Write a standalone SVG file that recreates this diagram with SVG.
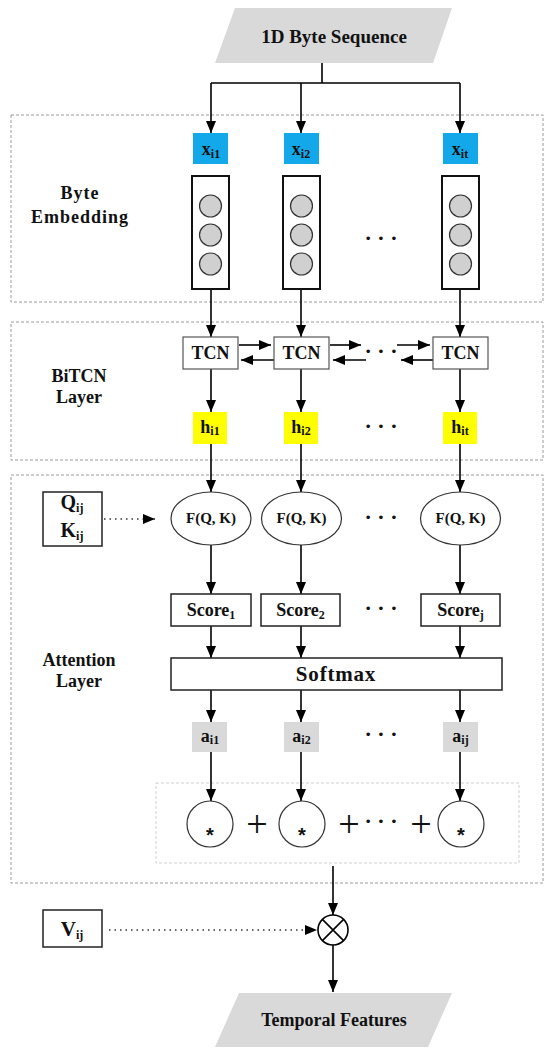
<svg xmlns="http://www.w3.org/2000/svg" width="550" height="1058" viewBox="0 0 550 1058">
<defs>
<marker id="ah" viewBox="0 0 12 10" refX="12" refY="5" markerWidth="12" markerHeight="10" markerUnits="userSpaceOnUse" orient="auto">
<path d="M0,0 L12,5 L0,10 z" fill="#000"/>
</marker>
<style>
.t{font-family:"Liberation Serif","Times New Roman",serif;font-weight:bold;text-anchor:middle;fill:#111}
.grp{fill:none;stroke:#9a9a9a;stroke-width:1;stroke-dasharray:3 2}
.inner{fill:none;stroke:#d0d0d0;stroke-width:1;stroke-dasharray:3 2}
.box{fill:#fff;stroke:#222;stroke-width:1.5}
.box2{fill:#fff;stroke:#555;stroke-width:1.2}
.emb{fill:#fff;stroke:#111;stroke-width:2}
.dot{fill:#d0d0d0;stroke:#333;stroke-width:1.2}
.xb{fill:#12a8ea}
.hb{fill:#ffff00}
.ab{fill:#d9d9d9}
.para{fill:#d9d9d9}
.c{fill:none;stroke:#000;stroke-width:1.6}
.ca{fill:none;stroke:#000;stroke-width:1.6;marker-end:url(#ah)}
.cd{fill:none;stroke:#333;stroke-width:1.4;stroke-dasharray:1.5 4;marker-end:url(#ah)}
.ell{fill:#fff;stroke:#333;stroke-width:1.2}
.dots{font-family:"Liberation Serif",serif;font-weight:bold;font-size:22px;text-anchor:middle;fill:#111}
.plus{font-family:"Liberation Serif",serif;font-size:38px;text-anchor:middle;fill:#111}
.star{font-family:"Liberation Sans",Arial,sans-serif;font-weight:bold;font-size:20px;text-anchor:middle;fill:#111}
</style>
</defs>
<rect width="550" height="1058" fill="#fff"/>

<!-- group frames -->
<g id="frames">
<rect class="grp" x="11" y="115" width="532" height="187"/>
<rect class="grp" x="11" y="322" width="532" height="138"/>
<rect class="grp" x="11" y="475" width="532" height="408"/>
<rect class="inner" x="156" y="783" width="363" height="80"/>
</g>

<g id="labels">
<text class="t" x="80" y="199" font-size="18" letter-spacing="1">Byte</text>
<text class="t" x="80" y="223" font-size="18" letter-spacing="1">Embedding</text>
<text class="t" x="79" y="382" font-size="18">BiTCN</text>
<text class="t" x="79" y="403" font-size="18">Layer</text>
<text class="t" x="79" y="666" font-size="18">Attention</text>
<text class="t" x="79" y="687" font-size="18">Layer</text>
</g>

<!-- connectors -->
<g id="connectors">
<path class="c" d="M322,63 V83 M211,83 H460"/>
<path class="ca" d="M211,83 V133"/>
<path class="ca" d="M301,83 V133"/>
<path class="ca" d="M460,83 V133"/>
<path class="ca" d="M211,289 V337"/>
<path class="ca" d="M301,289 V337"/>
<path class="ca" d="M460,289 V337"/>
<path class="ca" d="M239,345 H271"/>
<path class="ca" d="M274,360 H241"/>
<path class="ca" d="M330,345 H361"/>
<path class="ca" d="M366,360 H333"/>
<path class="ca" d="M397,345 H430"/>
<path class="ca" d="M433,360 H401"/>
<path class="ca" d="M211,369 V412"/>
<path class="ca" d="M301,369 V412"/>
<path class="ca" d="M460,369 V412"/>
<path class="ca" d="M211,444 V492"/>
<path class="ca" d="M301,444 V492"/>
<path class="ca" d="M460,444 V492"/>
<path class="cd" d="M104,519 H155"/>
<path class="ca" d="M211,545 V594"/>
<path class="ca" d="M301,545 V594"/>
<path class="ca" d="M460,545 V594"/>
<path class="ca" d="M211,626 V658"/>
<path class="ca" d="M301,626 V658"/>
<path class="ca" d="M460,626 V658"/>
<path class="ca" d="M211,690 V722"/>
<path class="ca" d="M301,690 V722"/>
<path class="ca" d="M460,690 V722"/>
<path class="ca" d="M211,752 V801"/>
<path class="ca" d="M301,752 V801"/>
<path class="ca" d="M460,752 V801"/>
<path class="ca" d="M333,866 V915"/>
<path class="cd" d="M109,930 H317"/>
<path class="ca" d="M333,945 V992"/>
</g>

<!-- input -->
<g id="input">
<polygon class="para" points="235,8 452,8 433,63 215,63"/>
<text class="t" x="334" y="43" font-size="19">1D Byte Sequence</text>
</g>

<!-- x boxes -->
<g id="x1"><rect class="xb" x="193" y="133" width="35" height="31"/><text class="t" x="211" y="155" font-size="18">x<tspan font-size="12" dy="3">i1</tspan></text></g>
<g id="x2"><rect class="xb" x="284" y="133" width="35" height="31"/><text class="t" x="301" y="155" font-size="18">x<tspan font-size="12" dy="3">i2</tspan></text></g>
<g id="xt"><rect class="xb" x="443" y="133" width="35" height="31"/><text class="t" x="460" y="155" font-size="18">x<tspan font-size="12" dy="3">it</tspan></text></g>

<!-- embeddings -->
<g id="emb1"><rect class="emb" x="192" y="176" width="37" height="113"/><circle class="dot" cx="210.5" cy="206" r="11"/><circle class="dot" cx="210.5" cy="235" r="11"/><circle class="dot" cx="210.5" cy="264" r="11"/></g>
<g id="emb2"><rect class="emb" x="283" y="176" width="37" height="113"/><circle class="dot" cx="301.5" cy="206" r="11"/><circle class="dot" cx="301.5" cy="235" r="11"/><circle class="dot" cx="301.5" cy="264" r="11"/></g>
<g id="embt"><rect class="emb" x="442" y="176" width="37" height="113"/><circle class="dot" cx="460.5" cy="206" r="11"/><circle class="dot" cx="460.5" cy="235" r="11"/><circle class="dot" cx="460.5" cy="264" r="11"/></g>
<text class="dots" x="381" y="245">· · ·</text>

<!-- TCN -->
<g id="tcn1"><rect class="box2" x="183" y="337" width="55" height="32"/><text class="t" x="210.5" y="359" font-size="18">TCN</text></g>
<g id="tcn2"><rect class="box2" x="274" y="337" width="55" height="32"/><text class="t" x="301.5" y="359" font-size="18">TCN</text></g>
<g id="tcnt"><rect class="box2" x="433" y="337" width="55" height="32"/><text class="t" x="460.5" y="359" font-size="18">TCN</text></g>
<text class="dots" x="381" y="358">· · ·</text>

<!-- h -->
<g id="h1"><rect class="hb" x="193" y="412" width="34" height="32"/><text class="t" x="210" y="433" font-size="18">h<tspan font-size="12" dy="2">i1</tspan></text></g>
<g id="h2"><rect class="hb" x="284" y="412" width="34" height="32"/><text class="t" x="301" y="433" font-size="18">h<tspan font-size="12" dy="2">i2</tspan></text></g>
<g id="ht"><rect class="hb" x="443" y="412" width="34" height="32"/><text class="t" x="460" y="433" font-size="18">h<tspan font-size="12" dy="2">it</tspan></text></g>
<text class="dots" x="381" y="433">· · ·</text>

<!-- QK -->
<g id="qk"><rect class="box" x="43" y="492" width="59" height="54"/>
<text class="t" x="72" y="509" font-size="20">Q<tspan font-size="12" dy="3">ij</tspan></text>
<text class="t" x="72" y="537" font-size="20">K<tspan font-size="12" dy="3">ij</tspan></text></g>

<!-- F(Q,K) -->
<g id="f1"><ellipse class="ell" cx="211" cy="518.5" rx="40" ry="26.5"/><text class="t" x="211" y="523" font-size="15">F(Q, K)</text></g>
<g id="f2"><ellipse class="ell" cx="301.5" cy="518.5" rx="40" ry="26.5"/><text class="t" x="301.5" y="523" font-size="15">F(Q, K)</text></g>
<g id="ft"><ellipse class="ell" cx="460.5" cy="518.5" rx="40" ry="26.5"/><text class="t" x="460.5" y="523" font-size="15">F(Q, K)</text></g>
<text class="dots" x="381" y="524">· · ·</text>

<!-- Scores -->
<g id="s1"><rect class="box" x="171" y="594" width="80" height="32"/><text class="t" x="211" y="616" font-size="18">Score<tspan font-size="12" dy="3">1</tspan></text></g>
<g id="s2"><rect class="box" x="261" y="594" width="79" height="32"/><text class="t" x="300.5" y="616" font-size="18">Score<tspan font-size="12" dy="3">2</tspan></text></g>
<g id="sj"><rect class="box" x="421" y="594" width="79" height="32"/><text class="t" x="460.5" y="616" font-size="18">Score<tspan font-size="12" dy="3">j</tspan></text></g>
<text class="dots" x="381" y="615">· · ·</text>

<!-- Softmax -->
<g id="softmax"><rect class="box" x="171" y="658" width="331" height="32"/><text class="t" x="336" y="681" font-size="21" letter-spacing="0.8">Softmax</text></g>

<!-- a -->
<g id="a1"><rect class="ab" x="192" y="722" width="35" height="30"/><text class="t" x="210" y="742" font-size="18">a<tspan font-size="12" dy="2">i1</tspan></text></g>
<g id="a2"><rect class="ab" x="284" y="722" width="35" height="30"/><text class="t" x="301.5" y="742" font-size="18">a<tspan font-size="12" dy="2">i2</tspan></text></g>
<g id="aj"><rect class="ab" x="443" y="722" width="35" height="30"/><text class="t" x="460.5" y="742" font-size="18">a<tspan font-size="12" dy="2">ij</tspan></text></g>
<text class="dots" x="381" y="741">· · ·</text>

<!-- products -->
<g id="m1"><circle class="ell" cx="210" cy="824" r="23"/><text class="star" x="210" y="842">*</text></g>
<g id="m2"><circle class="ell" cx="302" cy="824" r="23"/><text class="star" x="302" y="842">*</text></g>
<g id="mj"><circle class="ell" cx="461" cy="824" r="23"/><text class="star" x="461" y="842">*</text></g>
<text class="plus" x="257" y="837">+</text>
<text class="plus" x="349" y="837">+</text>
<text class="plus" x="421" y="837">+</text>
<text class="dots" x="381" y="828">· · ·</text>

<!-- V and otimes -->
<g id="v"><rect class="box" x="43" y="910" width="59" height="37"/><text class="t" x="72" y="936" font-size="21">V<tspan font-size="12" dy="3">ij</tspan></text></g>
<g id="otimes"><circle fill="#fff" stroke="#000" stroke-width="1.6" cx="333" cy="930" r="15"/><path d="M322.4,919.4 L343.6,940.6 M343.6,919.4 L322.4,940.6" stroke="#000" stroke-width="1.6"/></g>

<!-- output -->
<g id="output">
<polygon class="para" points="239,993 452,993 428,1047 215,1047"/>
<text class="t" x="334" y="1026" font-size="18">Temporal Features</text>
</g>
</svg>
